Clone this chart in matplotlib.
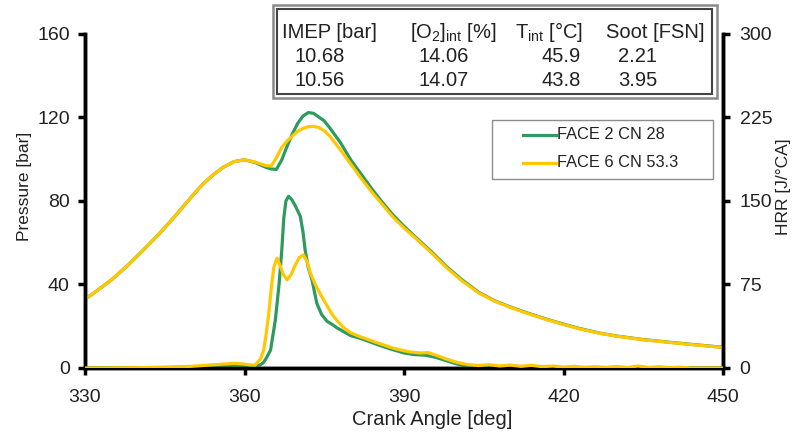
import matplotlib
matplotlib.use("Agg")
import matplotlib.pyplot as plt
from matplotlib.patches import Rectangle
from matplotlib.lines import Line2D

plt.rcParams['font.family'] = ['Liberation Sans', 'DejaVu Sans']
plt.rcParams['mathtext.fontset'] = 'custom'
plt.rcParams['mathtext.rm'] = 'Liberation Sans'
plt.rcParams['mathtext.it'] = 'Liberation Sans:italic'

# --- data ---
# cylinder pressure [bar]
ca_p6 = [330, 332, 335, 338, 341, 344, 347, 350, 352, 354, 356, 358, 360, 362, 364, 365,
         366, 367, 368, 369, 370, 371, 372, 373, 374, 375, 376, 378, 380, 382, 384, 386,
         388, 390, 392, 395, 398, 401, 404, 407, 410, 413, 417, 420, 423, 427, 430, 435,
         440, 445, 450]
p_face6 = [32.9, 36.5, 42.2, 49.0, 56.5, 64.3, 72.8, 81.8, 87.5, 92.2, 96.0, 98.7, 99.6, 98.5, 96.8, 96.6,
           100.5, 105.5, 108.5, 111.0, 113.2, 114.6, 115.4, 115.6, 115.0, 113.5, 111.0, 104.5, 97.5, 90.5, 84.0, 78.0,
           72.0, 67.0, 62.5, 55.5, 48.0, 41.5, 36.0, 32.0, 29.0, 26.3, 23.0, 20.8, 18.7, 16.5, 15.2, 13.5,
           12.2, 11.0, 9.8]

ca_p2 = [330, 332, 335, 338, 341, 344, 347, 350, 352, 354, 356, 358, 360, 362, 364, 365,
         366, 367, 368, 369, 370, 371, 372, 373, 374, 375, 376, 378, 380, 382, 384, 386,
         388, 390, 392, 395, 398, 401, 404, 407, 410, 413, 417, 420, 423, 427, 430, 435,
         440, 445, 450]
p_face2 = [32.9, 36.5, 42.2, 49.0, 56.5, 64.3, 72.8, 81.8, 87.5, 92.2, 96.0, 98.7, 99.6, 98.3, 96.0, 95.2,
           95.0, 99.5, 106.0, 112.0, 117.0, 120.5, 122.2, 121.8, 120.0, 118.2, 115.0, 108.0, 99.5, 92.5, 85.5, 79.0,
           73.0, 67.8, 63.0, 56.0, 48.5, 42.0, 36.3, 32.2, 29.2, 26.5, 23.2, 21.0, 18.9, 16.6, 15.3, 13.6,
           12.3, 11.1, 9.9]

# heat release rate [J/degCA]
ca_h6 = [330, 340, 345, 350, 353, 356, 358, 360, 361, 362, 363, 363.6, 364, 364.5, 365, 365.5,
         366.1, 366.6, 367.3, 368, 368.8, 369.5, 370.3, 371.1, 371.8, 372.4, 373.3, 374.3, 375.5,
         376.5, 377.5, 378.7, 380, 381.5, 383, 385, 387.5, 389, 391, 393, 394.5, 396, 398, 400,
         402, 404, 406, 408, 410, 412, 414, 416, 418, 420, 422, 424, 426, 428, 430, 432, 434,
         436, 438, 440, 442, 444, 450]
hrr_face6 = [0, 0.3, 0.8, 1.5, 2.5, 3.5, 4.2, 3.5, 2.8, 2.6, 8, 16, 28, 46, 70, 90,
             98.5, 93, 84, 79, 84, 92, 99, 101.5, 95, 85, 75, 66, 56,
             48, 42, 36, 31.5, 28.5, 26, 22.5, 18.5, 16.5, 14.5, 13.5, 13.8, 11.5, 8, 5,
             3, 2.2, 3.0, 1.8, 2.6, 1.5, 2.4, 1.2, 1.8, 0.8, 1.5, 0.6, 1.2, 0.5, 1.4, 0.4, 1.8,
             0.5, 1.2, 0.3, 0.8, 0, 0]

ca_h2 = [330, 350, 356, 358, 360, 362, 363, 363.5, 364, 364.9, 365.8, 366.5, 367, 367.4,
         367.8, 368.3, 368.9, 369.6, 370.5, 371, 371.4, 372, 372.7, 373.6, 374.5, 375.5, 376.5,
         377.4, 378.5, 380, 381.5, 383, 385, 387.5, 390, 392, 394, 396, 398, 400, 402, 404,
         406, 410, 412, 415, 418, 450]
hrr_face2 = [0, 0.5, 1.5, 2.5, 2.0, 1.0, 3, 4.5, 8, 16, 43, 75, 105, 135,
             150, 154, 151, 145, 136, 122, 106, 90, 79, 58, 48, 42, 39,
             36, 33, 29, 27, 24.5, 21, 17, 13.5, 12, 11.5, 9.5, 6.5, 3.5, 1.5, 0.8,
             0.3, 0.6, 0.2, 0.5, 0, 0]

labels = ['FACE 2 CN 28', 'FACE 6 CN 53.3']
colors = ['#2e9a5e', '#ffc800']

table_header = ['IMEP [bar]', r'[O$_2$]$_{\mathrm{int}}$ [%]', r'T$_{\mathrm{int}}$ [°C]', 'Soot [FSN]']
table_rows = [['10.68', '14.06', '45.9', '2.21'],
              ['10.56', '14.07', '43.8', '3.95']]

W, H = 797, 434
fig = plt.figure(figsize=(W / 100, H / 100), dpi=100)
ax = fig.add_axes([85 / W, 1 - 368 / H, (723 - 85) / W, (368 - 33.5) / H])
ax2 = ax.twinx()

lw = 2.3
ax.plot(ca_p2, p_face2, color=colors[0], lw=lw, solid_joinstyle='round', zorder=2)
ax.plot(ca_p6, p_face6, color=colors[1], lw=lw, solid_joinstyle='round', zorder=3)
ax2.plot(ca_h2, hrr_face2, color=colors[0], lw=lw, solid_joinstyle='round', zorder=2)
ax2.plot(ca_h6, hrr_face6, color=colors[1], lw=lw, solid_joinstyle='round', zorder=3)

ax.set_xlim(330, 450)
ax.set_ylim(0, 160)
ax2.set_ylim(0, 300)
ax.set_xticks([330, 360, 390, 420, 450])
ax.set_yticks([0, 40, 80, 120, 160])
ax2.set_yticks([0, 75, 150, 225, 300])

for a in (ax, ax2):
    for s in a.spines.values():
        s.set_linewidth(2.5)
    a.spines['top'].set_visible(False)
    a.tick_params(direction='out', length=5, width=2.5, labelsize=14, labelcolor='#222222')
ax.tick_params(axis='x', pad=10)
ax.tick_params(axis='y', pad=6)
ax2.tick_params(axis='y', pad=7)

ax.set_xlabel('Crank Angle [deg]', fontsize=14.5, color='#222222')
ax.set_ylabel('Pressure [bar]', fontsize=12.5, color='#222222')
ax2.set_ylabel('HRR [J/°CA]', fontsize=12.5, color='#222222')
ax.xaxis.set_label_coords(0.544, -0.127)
ax.yaxis.set_label_coords(-0.083, 0.542)
ax2.yaxis.set_label_coords(1.083, 0.542)


def fx(px):
    return px / W


def fy(py):
    return 1 - py / H


# data table box (double border)
fig.add_artist(Rectangle((fx(273), fy(97.5)), (717 - 273) / W, (97.5 - 5) / H,
                         transform=fig.transFigure, fill=True, facecolor='white',
                         edgecolor='#8a8a8a', lw=1.8, zorder=5))
fig.add_artist(Rectangle((fx(277), fy(94)), (712 - 277) / W, (94 - 8.5) / H,
                         transform=fig.transFigure, fill=False,
                         edgecolor='#444444', lw=1.5, zorder=6))
head_x = [282, 410, 515, 606]
val_x = [295, 418, 541, 618]
for x, t in zip(head_x, table_header):
    fig.text(fx(x), fy(32), t, fontsize=14.5, va='center', ha='left', color='#222222', zorder=7)
for row, yy in zip(table_rows, [56, 80]):
    for x, t in zip(val_x, row):
        fig.text(fx(x), fy(yy), t, fontsize=14.5, va='center', ha='left', color='#222222', zorder=7)

# legend box
fig.add_artist(Rectangle((fx(492), fy(179)), (713 - 492) / W, (179 - 120) / H,
                         transform=fig.transFigure, facecolor='white',
                         edgecolor='#8c8c8c', lw=1.0, zorder=5))
for c, t, yy in zip(colors, labels, [134.5, 162.5]):
    fig.add_artist(Line2D([fx(523), fx(556)], [fy(yy), fy(yy)], transform=fig.transFigure,
                          color=c, lw=lw, zorder=6))
    fig.text(fx(557), fy(yy), t, fontsize=11.8, va='center', ha='left', color='#222222', zorder=7)

fig.savefig('out.png', dpi=100)
